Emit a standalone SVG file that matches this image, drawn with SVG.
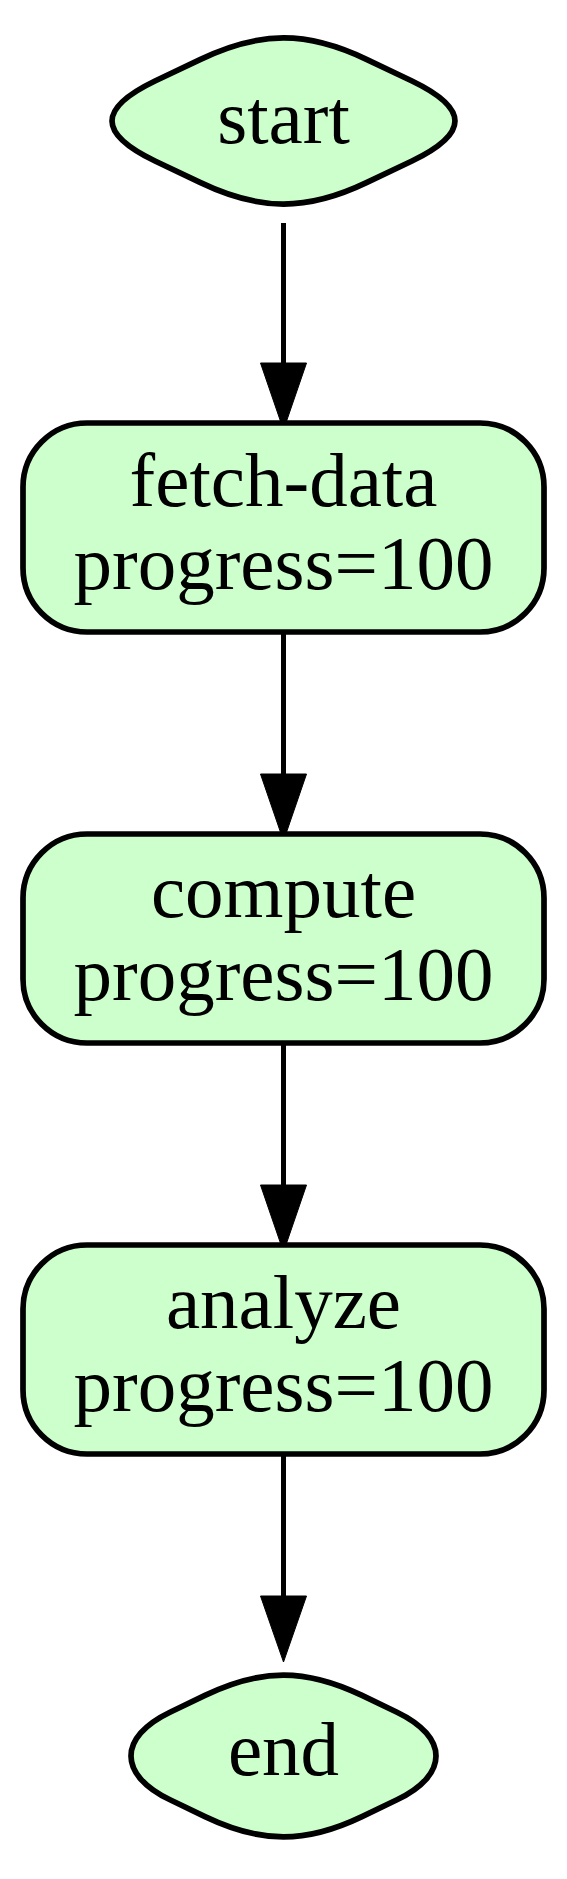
<svg xmlns="http://www.w3.org/2000/svg" width="567" height="1879" viewBox="0 0 567 1879">
<style>
.node{fill:#ccffcc;stroke:#000;stroke-width:5.7;stroke-linejoin:round}
.lbl{font-family:"Liberation Serif","Times New Roman",serif;font-size:77px;fill:#000;text-anchor:middle}
.edge{stroke:#000;stroke-width:5;fill:none}
.head{fill:#000;stroke:#000;stroke-width:1}
</style>
<rect width="567" height="1879" fill="#fff"/>
<g id="edges">
<line class="edge" x1="283.5" y1="223" x2="283.5" y2="366"/>
<polygon class="head" points="260.5,363 306.5,363 283.5,430"/>
<line class="edge" x1="283.5" y1="632" x2="283.5" y2="777"/>
<polygon class="head" points="260.5,774 306.5,774 283.5,841"/>
<line class="edge" x1="283.5" y1="1043" x2="283.5" y2="1188"/>
<polygon class="head" points="260.5,1185 306.5,1185 283.5,1252"/>
<line class="edge" x1="283.5" y1="1454" x2="283.5" y2="1599"/>
<polygon class="head" points="260.5,1596 306.5,1596 283.5,1662"/>
</g>
<g id="start">
<path class="node" d="M155,81 L200,59.6 C260.1,30.7 306.9,30.7 367,59.6 L412,81 C469.3,108.6 469.3,133.4 412,161 L367,182.4 C306.9,211.3 260.1,211.3 200,182.4 L155,161 C97.7,133.4 97.7,108.6 155,81 Z"/>
<text class="lbl" x="283.5" y="143">start</text>
</g>
<g id="fetch-data">
<rect class="node" x="23" y="423" width="521" height="209" rx="64" ry="64"/>
<text class="lbl" x="283.5" y="506">fetch-data</text>
<text class="lbl" x="283.5" y="589">progress=100</text>
</g>
<g id="compute">
<rect class="node" x="23" y="834" width="521" height="209" rx="64" ry="64"/>
<text class="lbl" x="283.5" y="917">compute</text>
<text class="lbl" x="283.5" y="1000">progress=100</text>
</g>
<g id="analyze">
<rect class="node" x="23" y="1245" width="521" height="209" rx="64" ry="64"/>
<text class="lbl" x="283.5" y="1328">analyze</text>
<text class="lbl" x="283.5" y="1411">progress=100</text>
</g>
<g id="end">
<path class="node" d="M170,1712.2 L205,1695.4 C261.5,1668.3 305.5,1668.3 362,1695.4 L397,1712.2 C449,1737.2 449,1774.8 397,1799.8 L362,1816.6 C305.5,1843.7 261.5,1843.7 205,1816.6 L170,1799.8 C118,1774.8 118,1737.2 170,1712.2 Z"/>
<text class="lbl" x="283.5" y="1775">end</text>
</g>
</svg>
